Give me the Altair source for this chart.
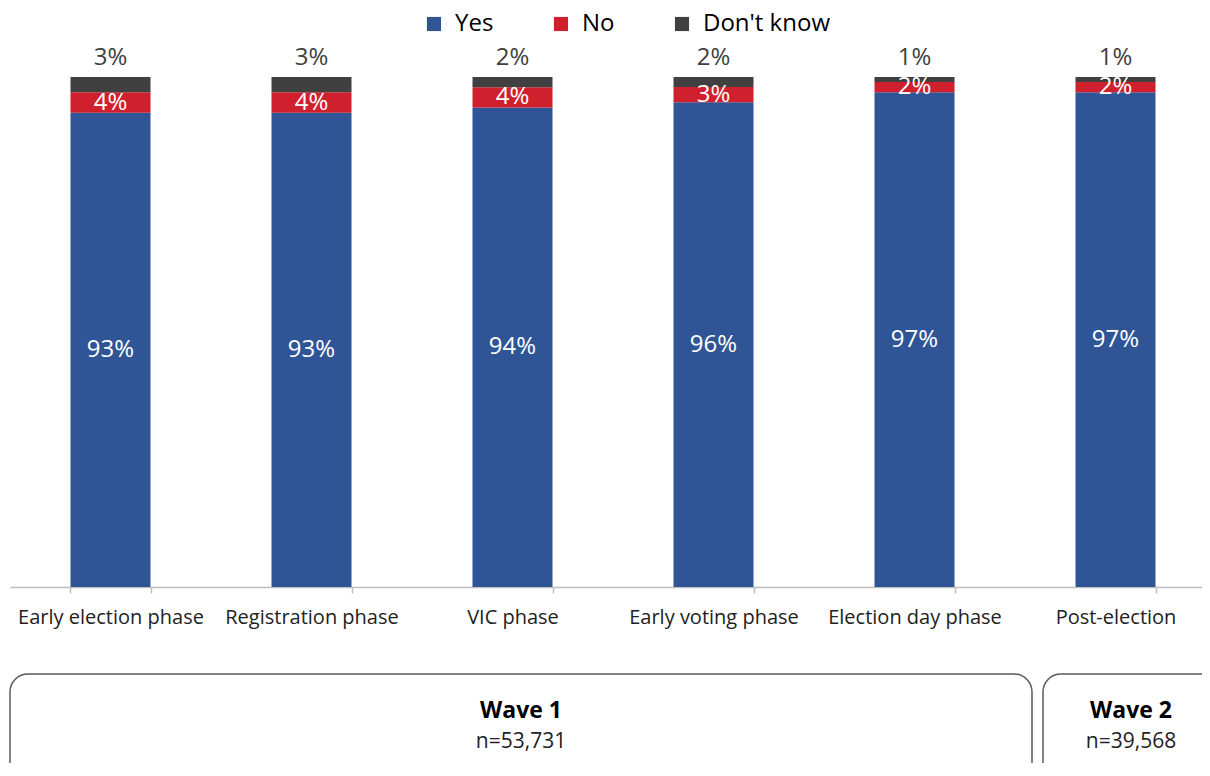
import altair as alt
import pandas as pd

phases = ["Early election phase", "Registration phase", "VIC phase",
          "Early voting phase", "Election day phase", "Post-election"]
yes = [93, 93, 94, 96, 97, 97]
no = [4, 4, 4, 3, 2, 2]
dont_know = [3, 3, 2, 2, 1, 1]
responses = ["Yes", "No", "Don't know"]
colors = ["#2F5597", "#D0202D", "#404040"]
waves = ["Wave 1", "Wave 2"]
wave_n = ["n=53,731", "n=39,568"]

FONT = "Open Sans"

rows = []
for i, p in enumerate(phases):
    vals = [yes[i], no[i], dont_know[i]]
    tot = sum(vals)
    acc = 0
    for r, v in zip(responses, vals):
        rows.append(dict(phase=p, response=r, value=v,
                         start=acc / tot, end=(acc + v) / tot,
                         mid=(acc + v / 2) / tot, label=f"{v}%",
                         order=responses.index(r)))
        acc += v
df = pd.DataFrame(rows)
wave_df = pd.DataFrame({"wave": waves, "n": wave_n})

xenc = alt.X("phase:N", sort=phases,
             scale=alt.Scale(paddingInner=0.6, paddingOuter=0.3),
             axis=alt.Axis(title=None, labelAngle=0, labelFontSize=20,
                           labelLimit=400,
                           labelColor="#222222", labelPadding=14, ticks=True,
                           tickBand="extent", tickSize=6, tickColor="#BFBFBF",
                           tickWidth=1.5,
                           domainColor="#BFBFBF", domainWidth=1.5,
                           labelFont=FONT))

base = alt.Chart(df)

bars = base.mark_bar(size=80).encode(
    x=xenc,
    y=alt.Y("start:Q", scale=alt.Scale(domain=[0, 1]), axis=None),
    y2="end:Q",
    color=alt.Color("response:N", sort=responses,
                    scale=alt.Scale(domain=responses, range=colors),
                    legend=alt.Legend(orient="none", legendX=412, legendY=-65,
                                      direction="horizontal", title=None,
                                      symbolType="square", symbolSize=200,
                                      symbolStrokeWidth=0, labelFontSize=24,
                                      labelFont=FONT, labelColor="#000000",
                                      labelOffset=9, columnPadding=55)),
    order="order:Q",
)

inside = base.transform_filter(alt.datum.response != "Don't know").mark_text(
    fontSize=24, color="white", font=FONT, baseline="middle").encode(
    x=alt.X("phase:N", sort=phases),
    y="mid:Q",
    text="label:N",
)

above = base.transform_filter(alt.datum.response == "Don't know").mark_text(
    fontSize=24, color="#404040", font=FONT, baseline="middle", dy=-19).encode(
    x=alt.X("phase:N", sort=phases),
    y="end:Q",
    text="label:N",
)

layers = [bars, inside, above]

box_specs = [("Wave 1", 0, 1022, 511), ("Wave 2", 1033, 1240, 1121)]
for w, x0, x1, xc in box_specs:
    wd = alt.Chart(wave_df).transform_filter(alt.datum.wave == w)
    layers.append(wd.mark_rect(cornerRadius=18, fill="white", stroke="#595959",
                               strokeWidth=1.5).encode(
        x=alt.value(x0), x2=alt.value(x1), y=alt.value(597), y2=alt.value(730)))
    layers.append(wd.mark_text(fontSize=23, fontWeight="bold", font=FONT,
                               color="#000000", baseline="middle").encode(
        x=alt.value(xc), y=alt.value(634), text="wave:N"))
    layers.append(wd.mark_text(fontSize=21, font=FONT, color="#222222",
                               baseline="middle").encode(
        x=alt.value(xc), y=alt.value(665), text="n:N"))

chart = alt.layer(*layers).properties(
    width=1206, height=510,
    autosize=alt.AutoSizeParams(type="none"),
    padding={"left": 2, "top": 69, "right": -14, "bottom": 176},
).configure_view(stroke=None)

chart.save("out.html", embed_options={"renderer": "svg", "actions": False})
